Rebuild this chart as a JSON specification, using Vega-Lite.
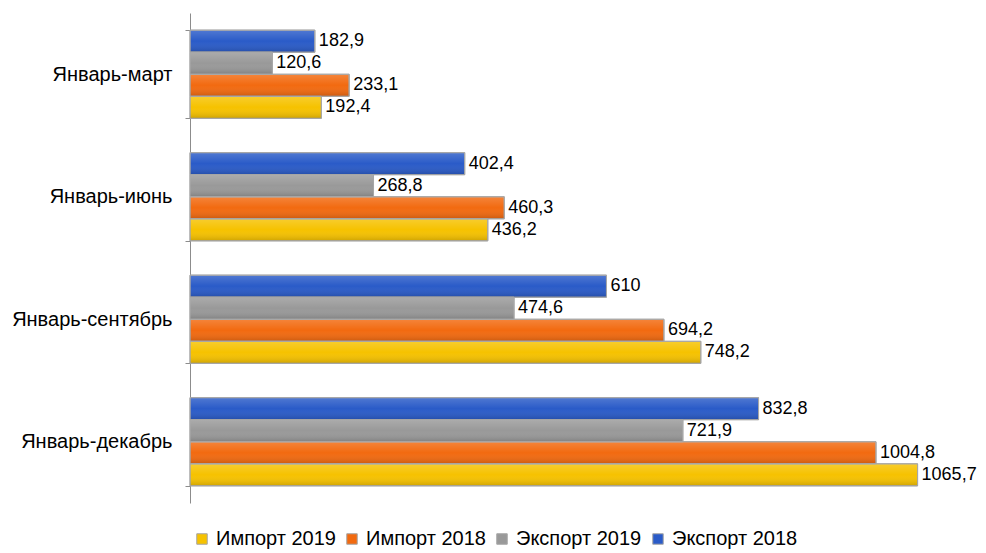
{
  "$schema": "https://vega.github.io/schema/vega-lite/v6.json",
  "width": 751,
  "height": 490,
  "autosize": {"type": "none"},
  "padding": {"left": 190, "top": 13, "right": 45, "bottom": 50},
  "background": "white",
  "config": {
    "view": {"stroke": null},
    "font": "Liberation Sans",
    "locale": {
      "number": {"decimal": ",", "thousands": " ", "grouping": [3], "currency": ["", ""]}
    }
  },
  "data": {
    "values": [
      {"period": "Январь-март", "series": "Экспорт 2018", "value": 182.9},
      {"period": "Январь-март", "series": "Экспорт 2019", "value": 120.6},
      {"period": "Январь-март", "series": "Импорт 2018", "value": 233.1},
      {"period": "Январь-март", "series": "Импорт 2019", "value": 192.4},
      {"period": "Январь-июнь", "series": "Экспорт 2018", "value": 402.4},
      {"period": "Январь-июнь", "series": "Экспорт 2019", "value": 268.8},
      {"period": "Январь-июнь", "series": "Импорт 2018", "value": 460.3},
      {"period": "Январь-июнь", "series": "Импорт 2019", "value": 436.2},
      {"period": "Январь-сентябрь", "series": "Экспорт 2018", "value": 610},
      {"period": "Январь-сентябрь", "series": "Экспорт 2019", "value": 474.6},
      {"period": "Январь-сентябрь", "series": "Импорт 2018", "value": 694.2},
      {"period": "Январь-сентябрь", "series": "Импорт 2019", "value": 748.2},
      {"period": "Январь-декабрь", "series": "Экспорт 2018", "value": 832.8},
      {"period": "Январь-декабрь", "series": "Экспорт 2019", "value": 721.9},
      {"period": "Январь-декабрь", "series": "Импорт 2018", "value": 1004.8},
      {"period": "Январь-декабрь", "series": "Импорт 2019", "value": 1065.7}
    ]
  },
  "encoding": {
    "y": {
      "field": "period",
      "type": "nominal",
      "sort": ["Январь-март", "Январь-июнь", "Январь-сентябрь", "Январь-декабрь"],
      "scale": {"paddingInner": 0.28, "paddingOuter": 0.14},
      "axis": {
        "title": null,
        "tickBand": "extent",
        "domainColor": "#8c8c8c",
        "tickColor": "#8c8c8c",
        "tickSize": 5,
        "labelPadding": 13,
        "labelFontSize": 20,
        "labelColor": "#000000",
        "labelFont": "Liberation Sans"
      }
    },
    "yOffset": {
      "field": "series",
      "type": "nominal",
      "scale": {"domain": ["Экспорт 2018", "Экспорт 2019", "Импорт 2018", "Импорт 2019"], "paddingInner": 0, "paddingOuter": 0}
    },
    "x": {
      "field": "value",
      "type": "quantitative",
      "scale": {"domain": [0, 1100], "nice": false},
      "axis": null
    }
  },
  "layer": [
    {
      "mark": {"type": "bar", "stroke": "#a6a6a6", "strokeWidth": 1},
      "encoding": {
        "color": {
          "field": "series",
          "type": "nominal",
          "scale": {
            "domain": ["Импорт 2019", "Импорт 2018", "Экспорт 2019", "Экспорт 2018"],
            "range": ["#f6c200", "#f26a10", "#999999", "#2a5bc8"]
          },
          "legend": {
            "title": null,
            "orient": "none",
            "direction": "horizontal",
            "legendX": 2,
            "legendY": 516,
            "symbolType": "square",
            "symbolSize": 110,
            "symbolStrokeColor": "#a6a6a6",
            "symbolStrokeWidth": 1,
            "labelFontSize": 20,
            "labelColor": "#000000",
            "labelFont": "Liberation Sans",
            "columnPadding": 6,
            "labelOffset": 4
          }
        }
      }
    },
    {
      "mark": {
        "type": "bar",
        "stroke": "#a6a6a6",
        "strokeWidth": 1,
        "color": {
          "gradient": "linear",
          "x1": 0, "y1": 0, "x2": 0, "y2": 1,
          "stops": [
            {"offset": 0, "color": "rgba(255,255,255,0.18)"},
            {"offset": 0.5, "color": "rgba(255,255,255,0)"},
            {"offset": 1, "color": "rgba(0,0,0,0.16)"}
          ]
        }
      }
    },
    {
      "mark": {"type": "text", "align": "left", "baseline": "middle", "dx": 4, "fontSize": 18, "color": "#000000", "font": "Liberation Sans"},
      "encoding": {
        "text": {"field": "value", "type": "quantitative", "format": "~f"}
      }
    }
  ]
}
